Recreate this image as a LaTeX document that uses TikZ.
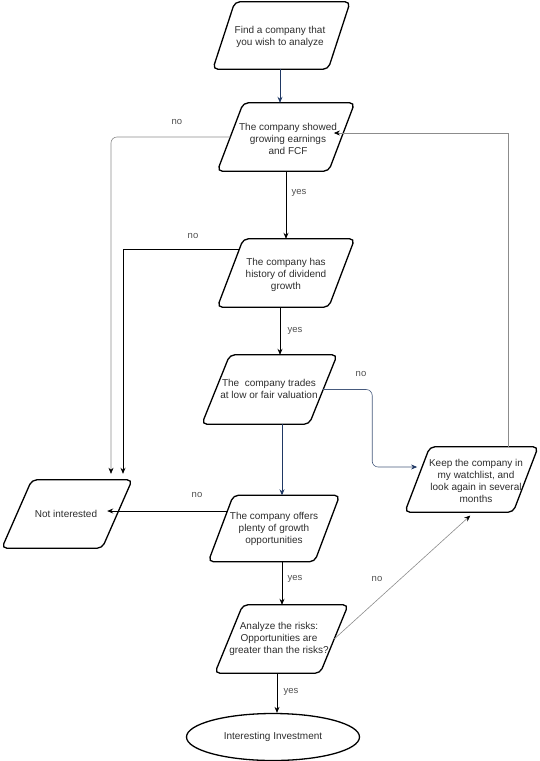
\documentclass[tikz,border=0pt]{standalone}
\usepackage{fontspec}
\setmainfont{Liberation Sans}
\usetikzlibrary{arrows.meta,calc,shapes.geometric}
\definecolor{navy}{RGB}{31,56,100}
\definecolor{bluegray}{RGB}{70,90,125}
\definecolor{txt}{RGB}{45,45,45}
\definecolor{lbl}{RGB}{80,80,80}
\definecolor{gline}{RGB}{140,140,140}
\newcommand\drawpara[2]{%
  \draw[pline] ([xshift=-#2*0.5pt]#1.south west) -- ([xshift=#2*0.5pt]#1.north west) -- ([xshift=#2*0.5pt]#1.north east) -- ([xshift=-#2*0.5pt]#1.south east) -- cycle;}
\begin{document}
\begin{tikzpicture}[x=1pt,y=-1pt,
  shp/.style 2 args={inner sep=0pt, minimum width=#1pt, minimum height=#2pt},
  pline/.style={draw=black, line width=1.3pt, rounded corners=5pt},
  txtn/.style={inner sep=0pt, align=center, font=\fontsize{10}{12}\selectfont, text=txt},
  lblnode/.style={inner sep=0pt, font=\fontsize{9.5}{11}\selectfont, text=lbl},
  conn/.style={draw=black, line width=0.8pt, -{Stealth[length=6pt,width=5pt]}},
  connnavy/.style={draw=navy, line width=0.8pt, -{Stealth[length=6pt,width=5pt]}},
  connblue/.style={draw=bluegray, line width=0.6pt, -{Stealth[length=6pt,width=5pt,color=navy]}},
  conng/.style={draw=gline, line width=0.6pt, -{Stealth[length=6pt,width=5pt,color=black]}},
]
\useasboundingbox (0,0) rectangle (540,761);

% shape nodes
\node[shp={115}{67}] (n1) at (281.5,35.5) {};
\node[shp={111}{68}] (n2) at (286,137) {};
\node[shp={111}{68}] (n3) at (286,273) {};
\node[shp={107}{69}] (n4) at (269.5,389.5) {};
\node[shp={100}{68}] (n5) at (67,514) {};
\node[shp={106}{66}] (n6) at (274,528.5) {};
\node[shp={108}{65}] (n7) at (471.5,479.5) {};
\node[shp={105}{68}] (n8) at (281.5,639) {};
\node[draw=black, line width=1.3pt, ellipse, minimum width=173pt, minimum height=47pt, inner sep=0pt, font=\fontsize{10}{12}\selectfont, text=txt] (n9) at (273,737) {Interesting Investment};

\drawpara{n1}{22}
\drawpara{n2}{26}
\drawpara{n3}{26}
\drawpara{n4}{28}
\drawpara{n5}{30}
\drawpara{n6}{25}
\drawpara{n7}{25}
\drawpara{n8}{28}

% texts
\node[txtn] (t1) at (280,37) {Find a company that\\you wish to analyze};
\node[txtn] (t2) at (288,139) {The company showed\\growing earnings\\and FCF};
\node[txtn] (t3) at (286,275) {The company has\\history of dividend\\growth};
\node[txtn] (t4) at (269,389) {The\ \ company trades\\at low or fair valuation};
\node[txtn] (t5) at (66,514) {Not interested};
\node[txtn] (t6) at (274,529) {The company offers\\plenty of growth\\opportunities};
\node[txtn] (t7) at (476,481) {Keep the company in\\my watchlist, and\\look again in several\\months};
\node[txtn] (t8) at (279,639) {Analyze the risks:\\Opportunities are\\greater than the risks?};

% connectors
\coordinate (c12) at ($(n1.south)+(-1.5,0)$);
\draw[connnavy] (c12) -- (c12 |- n2.north);
\draw[conn] (n2.south) -- (n2.south |- n3.north);
\coordinate (c34) at ($(n3.south)+(-6,0)$);
\draw[conn] (c34) -- (c34 |- n4.north);
\coordinate (c46) at ($(n4.south)+(12.5,0)$);
\draw[connnavy] (c46) -- (c46 |- n6.north);
\coordinate (c68) at ($(n6.south)+(8,0)$);
\draw[conn] (c68) -- (c68 |- n8.north);
\coordinate (c89) at ($(n8.south)+(-4.5,0)$);
\draw[conn] (c89) -- (c89 |- n9.north);

% no branches to Not interested
\coordinate (c25) at ($(n5.north)+(44,0)$);
\draw[conng, rounded corners=6pt, shorten >=6pt] (n2.west) -| (c25);
\coordinate (s35) at ($(n3.west)+(9.2,-24)$);
\coordinate (c35) at ($(n5.north)+(56,0)$);
\draw[conn, shorten >=6pt] (s35) -| (c35);
\coordinate (s65) at ($(n6.west)+(6.6,-17.5)$);
\draw[conn, shorten >=-10pt] (s65) -- (s65 -| n5.east);

% to watchlist
\coordinate (e47) at ($(n7.west)+(4.8,-12.5)$);
\draw[connblue, rounded corners=6pt, shorten >=5pt] (n4.east) -- ++(49,0) |- (e47);
\draw[conng, shorten >=5pt] (n8.east) -- ($(n7.south)+(2.5,0)$);

% loop back
\coordinate (s72) at ($(n7.north)+(36.5,0)$);
\coordinate (e72) at ($(n2.east)+(1.2,-4)$);
\draw[conng, shorten >=-9pt] (s72) |- (e72);

% labels
\node[lblnode] (l1) at (177,122) {no};
\node[lblnode] (l2) at (299,193) {yes};
\node[lblnode] (l3) at (193,236) {no};
\node[lblnode] (l4) at (295,331) {yes};
\node[lblnode] (l5) at (361,374) {no};
\node[lblnode] (l6) at (197,495) {no};
\node[lblnode] (l7) at (295,579) {yes};
\node[lblnode] (l8) at (377,579) {no};
\node[lblnode] (l9) at (291,692) {yes};
\end{tikzpicture}
\end{document}
